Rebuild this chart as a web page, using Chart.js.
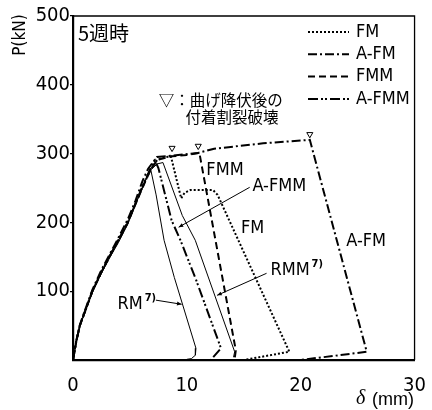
<!DOCTYPE html>
<html><head><meta charset="utf-8">
<script src="https://cdn.jsdelivr.net/npm/chart.js@4"></script>
<style>html,body{margin:0;padding:0;background:#fff}#c{display:block}</style>
</head><body>
<canvas id="c" width="432" height="410"></canvas>
<script>
// ---- data (δ in mm, P in kN) ----
const xTicks = [0, 10, 20, 30];
const yTicks = [100, 200, 300, 400, 500];

const fmX  = [0,0.3,0.6,1.0,1.7,2.5,3.2,4.0,4.8,5.5,6.2,6.8,7.4,8.2,8.6,9.5,9.8,10.3,12.3,12.7,19.0,15.0];
const fmY  = [0,28,50,68,100,128,150,175,200,228,255,276,291,295,296,235,243,247,247,240,12,0];

const afmX = [0,0.3,0.6,1.0,1.7,2.5,3.2,4.0,4.8,5.5,6.1,6.6,7.36,8.7,11.0,12.4,16.7,20.8,25.8,20.0];
const afmY = [0,29,51,70,102,131,153,178,204,232,260,278,295,297,301,307,315,320,12,0];

const fmmX = [0,0.3,0.6,1.0,1.7,2.5,3.2,4.0,4.8,5.5,6.2,6.8,7.4,8.7,10.0,11.1,14.3,14.2];
const fmmY = [0,28,50,68,100,128,150,174,199,227,254,276,291,296,298,301,14,2];

const afmmX = [0,0.3,0.6,1.0,1.7,2.5,3.2,4.0,4.8,5.5,6.2,6.8,7.2,7.5,8.66,9.44,10.82,13.0,12.1];
const afmmY = [0,28,50,68,100,128,150,175,200,228,256,278,290,279,203,174,116,17,0];

const rmX  = [0,0.3,0.6,1.0,1.7,2.5,3.2,4.0,4.8,5.5,6.2,6.8,7.3,8.0,8.9,10.8,10.75,10.4,10.0];
const rmY  = [0,27,49,67,98,126,148,171,197,226,255,279,240,174,120,17,7,2,1];

const rmmX = [0,0.3,0.6,1.0,1.7,2.5,3.2,4.0,4.8,5.5,6.2,6.8,7.4,7.9,9.6,10.74,14.2,14.1];
const rmmY = [0,28,50,68,100,128,150,174,199,227,255,276,285,287,210,174,12,4];

// bond splitting failure after flexural yielding (▽)
const failX = [8.7, 11.0, 20.8];
const failY = [308, 311, 328];

const pts = (xs, ys) => xs.map((x, i) => ({x: x, y: ys[i]}));

const LAT = "'Liberation Sans Narrow','DejaVu Sans Condensed','Liberation Sans',sans-serif";
const JP = "'Noto Sans CJK JP','Noto Sans CJK SC',sans-serif";

function line(label, xs, ys, dash, w, legend) {
  return {label: label, data: pts(xs, ys), showLine: true, borderColor: '#000',
    backgroundColor: '#000', borderWidth: w, borderDash: dash, pointRadius: 0,
    tension: 0, inLegend: legend};
}

const datasets = [
  line('FM', fmX, fmY, [2, 2], 2, true),
  line('A-FM', afmX, afmY, [9, 3, 2, 3], 2, true),
  line('FMM', fmmX, fmmY, [7, 4], 2, true),
  line('A-FMM', afmmX, afmmY, [10, 3, 2, 2, 2, 3], 2, true),
  line('RM', rmX, rmY, [], 1, false),
  line('RMM', rmmX, rmmY, [], 1, false),
  {label: '▽', data: pts(failX, failY), showLine: false, pointStyle: 'triangle',
   rotation: 180, pointRadius: 3.5, backgroundColor: '#fff', borderColor: '#000',
   pointBorderWidth: 1, borderWidth: 1, inLegend: false}
];

// annotations in data coordinates
const notes = [
  {t: '5週時', x: 0.43, y: 474, f: '20px ' + JP, a: 'left'},
  {t: '▽：曲げ降伏後の', x: 7.54, y: 378, f: '15.5px ' + JP, a: 'left'},
  {t: '付着割裂破壊', x: 9.88, y: 353, f: '15.5px ' + JP, a: 'left'},
  {t: 'FMM', x: 13.35, y: 276, f: '18px ' + LAT, a: 'center'},
  {t: 'FM', x: 15.78, y: 192, f: '18px ' + LAT, a: 'center'},
  {t: 'A-FM', x: 25.75, y: 173, f: '18px ' + LAT, a: 'center'},
  {t: 'A-FMM', x: 18.12, y: 253, f: '18px ' + LAT, a: 'center'},
  {t: 'RMM', x: 17.34, y: 131, f: '18px ' + LAT, a: 'left', sup: '7)'},
  {t: 'RM', x: 3.9, y: 81, f: '18px ' + LAT, a: 'left', sup: '7)'}
];
const leaders = [
  [7.28, 87, 9.54, 81],
  [17.0, 126, 12.66, 94],
  [15.52, 251, 9.28, 193]
];

const deco = {
  id: 'deco',
  afterDatasetsDraw(chart) {
    const ctx = chart.ctx, xs = chart.scales.x, ys = chart.scales.y, ca = chart.chartArea;
    ctx.save();
    // top / right frame
    ctx.strokeStyle = '#000'; ctx.lineWidth = 1.3; ctx.setLineDash([]);
    ctx.beginPath();
    ctx.moveTo(ca.left, ca.top); ctx.lineTo(ca.right, ca.top); ctx.lineTo(ca.right, ca.bottom);
    ctx.stroke();
    // leader lines with small arrowheads
    ctx.lineWidth = 1;
    leaders.forEach(l => {
      const x1 = xs.getPixelForValue(l[0]), y1 = ys.getPixelForValue(l[1]);
      const x2 = xs.getPixelForValue(l[2]), y2 = ys.getPixelForValue(l[3]);
      ctx.beginPath(); ctx.moveTo(x1, y1); ctx.lineTo(x2, y2); ctx.stroke();
      const ang = Math.atan2(y2 - y1, x2 - x1);
      ctx.beginPath();
      ctx.moveTo(x2, y2);
      ctx.lineTo(x2 - 5 * Math.cos(ang - 0.4), y2 - 5 * Math.sin(ang - 0.4));
      ctx.lineTo(x2 - 5 * Math.cos(ang + 0.4), y2 - 5 * Math.sin(ang + 0.4));
      ctx.closePath(); ctx.fillStyle = '#000'; ctx.fill();
    });
    // text notes
    ctx.fillStyle = '#000'; ctx.textBaseline = 'middle';
    notes.forEach(n => {
      ctx.font = n.f; ctx.textAlign = n.a;
      const px = xs.getPixelForValue(n.x), py = ys.getPixelForValue(n.y);
      ctx.fillText(n.t, px, py);
      if (n.sup) {
        const w = ctx.measureText(n.t).width;
        ctx.font = 'bold 11px ' + LAT; ctx.textAlign = 'left';
        ctx.fillText(n.sup, px + w + 2, py - 6);
      }
    });
    // legend
    const legendItems = chart.data.datasets.filter(d => d.inLegend);
    legendItems.forEach((d, i) => {
      const y = 32 + i * 22.3;
      ctx.strokeStyle = '#000'; ctx.lineWidth = d.borderWidth; ctx.setLineDash(d.borderDash);
      ctx.beginPath(); ctx.moveTo(308, y); ctx.lineTo(349, y); ctx.stroke();
      ctx.setLineDash([]);
      ctx.font = '18px ' + LAT; ctx.textAlign = 'left';
      ctx.fillText(d.label, 356, y);
    });
    // axis titles
    ctx.font = '17px ' + LAT;
    ctx.save(); ctx.translate(21, 35); ctx.rotate(-Math.PI / 2);
    ctx.textAlign = 'center'; ctx.fillText('P(kN)', 0, 0); ctx.restore();
    ctx.textAlign = 'left';
    ctx.font = 'italic 20px ' + "'Liberation Serif','DejaVu Serif',serif";
    ctx.fillText('δ', 356, 399);
    ctx.font = '18px ' + "'Liberation Sans',sans-serif";
    ctx.fillText('(mm)', 372, 400);
    ctx.restore();
  }
};

new Chart(document.getElementById('c'), {
  type: 'scatter',
  data: {datasets: datasets},
  plugins: [deco],
  options: {
    responsive: false, animation: false, devicePixelRatio: 1,
    layout: {padding: {top: 16, right: 13, left: 0, bottom: 0}},
    plugins: {legend: {display: false}, tooltip: {enabled: false}},
    scales: {
      x: {type: 'linear', min: 0, max: 30,
        afterFit: s => { s.height = 50; },
        afterBuildTicks: s => { s.ticks = xTicks.map(v => ({value: v})); },
        grid: {display: false},
        border: {display: true, color: '#000', width: 2.2},
        ticks: {color: '#000', padding: 6, maxRotation: 0, font: {family: LAT, size: 20}}},
      y: {type: 'linear', min: 0, max: 500,
        afterFit: s => { s.width = 73; },
        afterBuildTicks: s => { s.ticks = yTicks.map(v => ({value: v})); },
        grid: {display: true, drawOnChartArea: false, drawTicks: true, tickLength: 3, color: '#000', lineWidth: 1.3},
        border: {display: true, color: '#000', width: 2.2},
        ticks: {color: '#000', padding: 0, font: {family: LAT, size: 20}}}
    }
  }
});
</script>
</body></html>
